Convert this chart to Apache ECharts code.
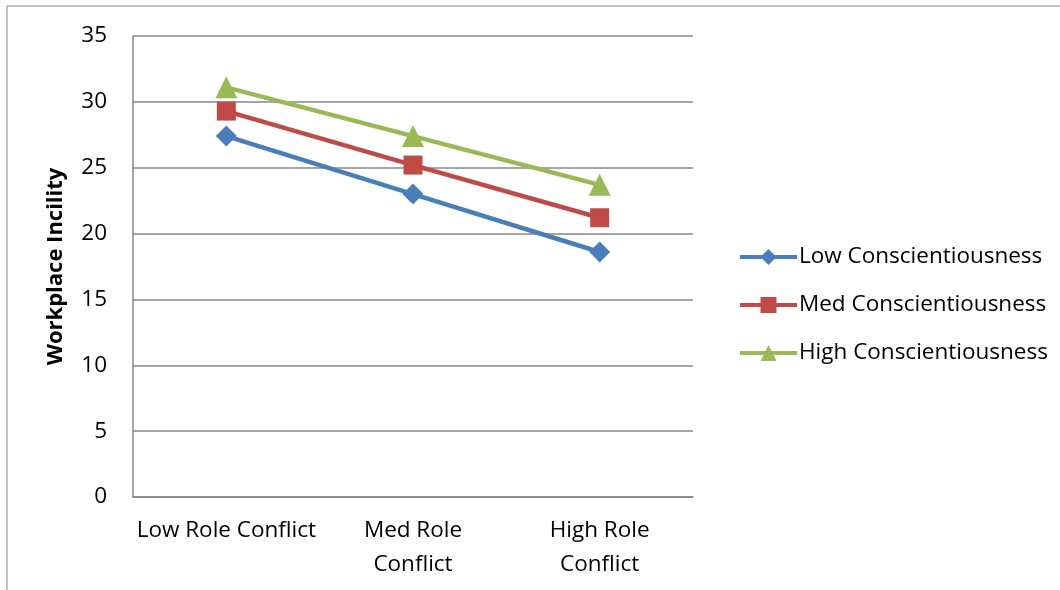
<!DOCTYPE html>
<html>
<head>
<meta charset="utf-8">
<script src="https://cdn.jsdelivr.net/npm/echarts@6/dist/echarts.min.js"></script>
<style>
  html, body { margin: 0; padding: 0; background: #fff; }
  #chart { width: 1060px; height: 590px; }
</style>
</head>
<body>
<div id="chart"></div>
<script>
// Role conflict levels on the x axis
const categories = ['Low Role Conflict', 'Med Role Conflict', 'High Role Conflict'];

// Mean workplace incivility per conscientiousness group
const lowConsc = [27.4, 23.0, 18.6];
const medConsc = [29.3, 25.2, 21.2];
const highConsc = [31.1, 27.4, 23.7];

const seriesNames = ['Low Conscientiousness', 'Med Conscientiousness', 'High Conscientiousness'];
const yTicks = { min: 0, max: 35, interval: 5 };

const font = 'Open Sans, Carlito, Calibri, sans-serif';
const colors = ['#4A7EBB', '#BE4B48', '#98B954'];
const symbols = ['diamond', 'rect', 'triangle'];
const symbolSizes = [21, 19, 22];

const chart = echarts.init(document.getElementById('chart'), null, { renderer: 'canvas' });

const data = [lowConsc, medConsc, highConsc];

chart.setOption({
  animation: false,
  backgroundColor: '#ffffff',
  graphic: [{
    type: 'rect',
    shape: { x: 7, y: 6, width: 1200, height: 800 },
    style: { fill: 'none', stroke: '#868686', lineWidth: 1 },
    silent: true
  }],
  grid: { left: 133, top: 36, width: 560, height: 461, containLabel: false },
  xAxis: {
    type: 'category',
    data: categories,
    boundaryGap: true,
    axisLine: { lineStyle: { color: '#868686', width: 1.5 } },
    axisTick: { show: false },
    axisLabel: {
      color: '#000',
      fontFamily: font,
      fontSize: 22.5,
      margin: 17,
      lineHeight: 34,
      interval: 0,
      formatter: (v, i) => i === 0 ? v : v.replace(' Conflict', '\nConflict')
    }
  },
  yAxis: {
    type: 'value',
    min: yTicks.min,
    max: yTicks.max,
    interval: yTicks.interval,
    name: 'Workplace Incility',
    nameLocation: 'middle',
    nameGap: 66,
    nameRotate: 90,
    nameTextStyle: { color: '#000', fontFamily: font, fontSize: 22, fontWeight: 'bold' },
    axisLine: { show: true, lineStyle: { color: '#868686', width: 1.5 } },
    axisTick: { show: false },
    axisLabel: { color: '#000', fontFamily: font, fontSize: 22.5, margin: 26 },
    splitLine: { lineStyle: { color: '#868686', width: 1.5 } }
  },
  legend: {
    orient: 'vertical',
    left: 733,
    top: 240,
    itemWidth: 57,
    itemHeight: 20,
    itemGap: 24,
    lineStyle: { width: 4 },
    textStyle: { color: '#000', fontFamily: font, fontSize: 22.5, lineHeight: 24, padding: [0, 0, 0, -3] },
    data: seriesNames
  },
  series: seriesNames.map((name, i) => ({
    name,
    type: 'line',
    data: data[i],
    symbol: symbols[i],
    symbolSize: symbolSizes[i],
    color: colors[i],
    lineStyle: { color: colors[i], width: 4.5 },
    itemStyle: { color: colors[i] }
  }))
});
</script>
</body>
</html>
